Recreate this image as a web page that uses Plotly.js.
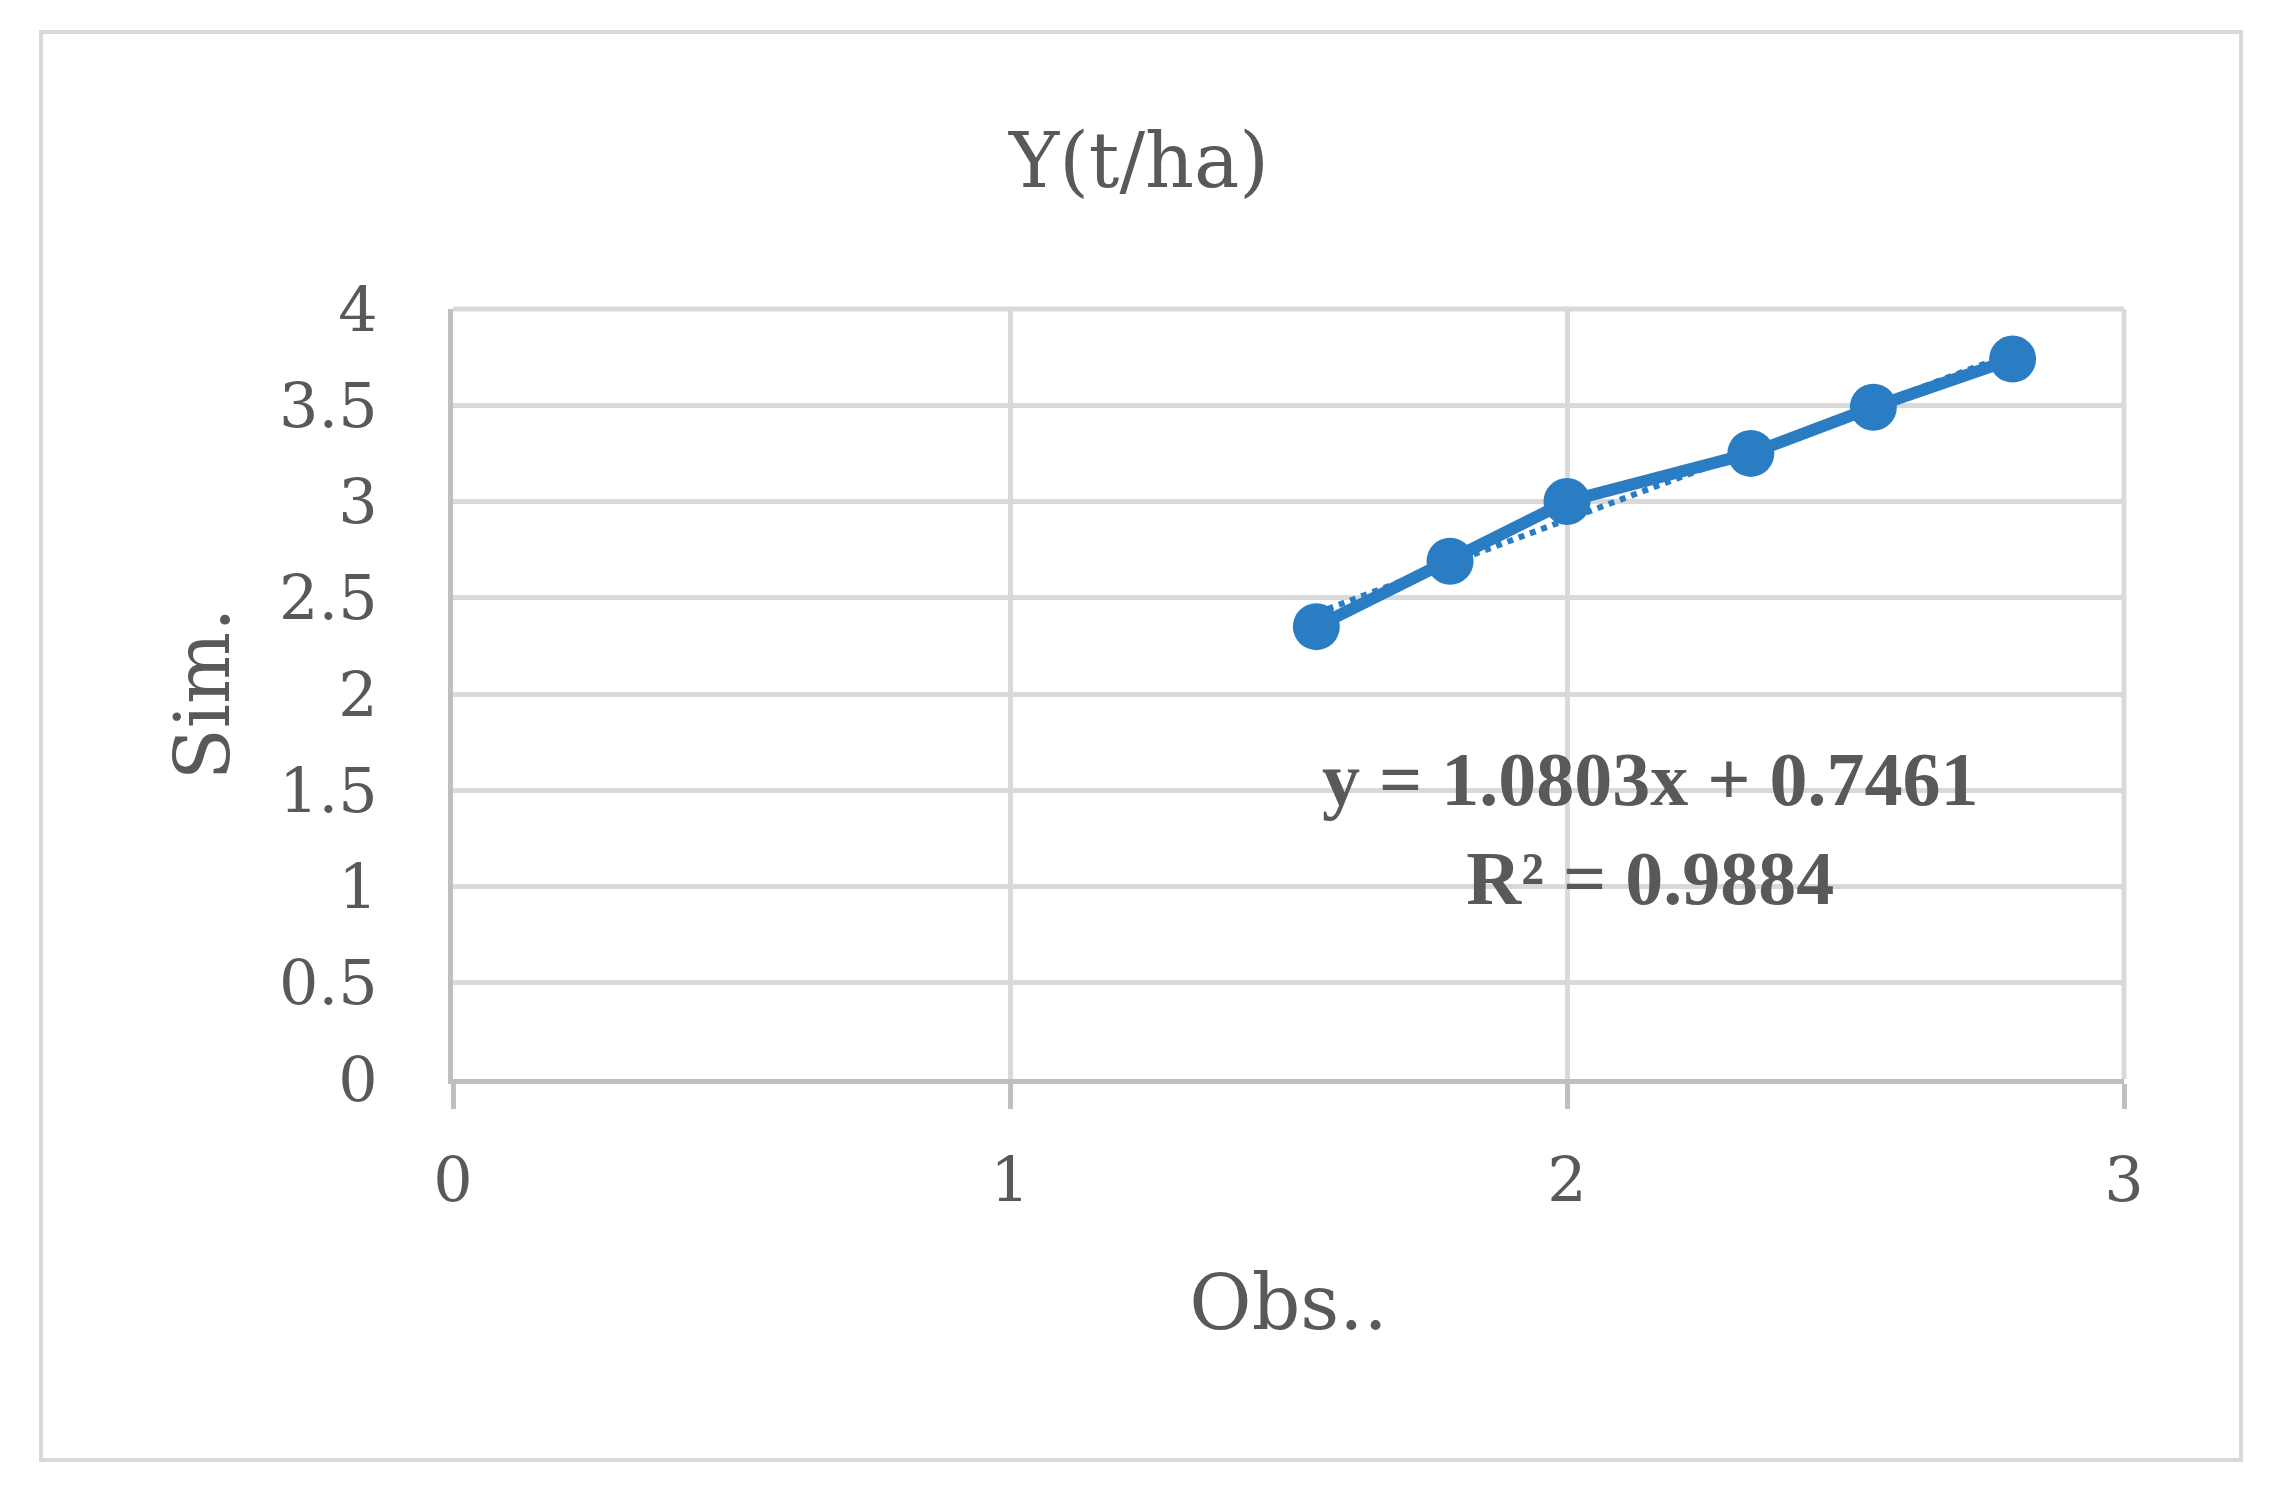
<!DOCTYPE html>
<html>
<head>
<meta charset="utf-8">
<script src="https://cdn.plot.ly/plotly-3.0.1.min.js"></script>
<style>
html,body{margin:0;padding:0;background:#fff;}
#chart{width:2278px;height:1507px;}
</style>
</head>
<body>
<div id="chart"></div>
<script>
// Data
const obs = [1.55, 1.79, 2.00, 2.33, 2.55, 2.80];
const sim = [2.35, 2.69, 3.00, 3.25, 3.49, 3.74];
// Linear trendline endpoints (dotted line in the reference)
const trendX = [1.55, 2.80];
const trendY = [2.42, 3.77];
const chartTitle = 'Y(t/ha)';
const xTitle = 'Obs..';
const yTitle = 'Sim.';
const equationText = 'y = 1.0803x + 0.7461<br>R² = 0.9884';
const xTicks = [0, 1, 2, 3];
const yTicks = [0, 0.5, 1, 1.5, 2, 2.5, 3, 3.5, 4];

const blue = '#2a7dc2';
const textGray = '#595959';
const serif = 'DejaVu Serif, Liberation Serif, serif';

const traces = [
  {
    x: trendX, y: trendY, type: 'scatter', mode: 'lines',
    line: {color: blue, width: 6, dash: 'dot'},
    hoverinfo: 'skip', showlegend: false
  },
  {
    x: obs, y: sim, type: 'scatter', mode: 'lines+markers',
    line: {color: blue, width: 12},
    marker: {color: blue, size: 47},
    showlegend: false
  }
];

const W = 2278, H = 1507;
const L = 453, R = 2124, T = 309, B = 1079;
const pw = R - L, ph = B - T;
function px2paperX(p){ return (p - L) / pw; }
function px2paperY(p){ return (B - p) / ph; }

const layout = {
  width: W, height: H,
  paper_bgcolor: '#ffffff', plot_bgcolor: '#ffffff',
  margin: {l: L, r: W - R, t: T, b: H - B, pad: 0},
  showlegend: false,
  title: {
    text: chartTitle,
    font: {family: serif, size: 76, color: textGray},
    xref: 'container', x: 0.5, xanchor: 'center',
    yref: 'container', y: 1 - 160/H, yanchor: 'middle'
  },
  xaxis: {
    range: [0, 3],
    tickvals: xTicks, ticktext: xTicks.map(String),
    showgrid: true, gridcolor: '#d9d9d9', gridwidth: 5,
    zeroline: false,
    showline: true, linecolor: '#bfbfbf', linewidth: 5,
    ticks: 'outside', ticklen: 25, tickwidth: 5, tickcolor: '#bfbfbf',
    tickfont: {family: serif, size: 62, color: textGray},
    ticklabelstandoff: 18,
    title: {text: xTitle, font: {family: serif, size: 76, color: textGray}, standoff: 62},
    fixedrange: true
  },
  yaxis: {
    range: [0, 4],
    tickvals: yTicks, ticktext: yTicks.map(String),
    showgrid: true, gridcolor: '#d9d9d9', gridwidth: 5,
    zeroline: false,
    showline: true, linecolor: '#bfbfbf', linewidth: 5,
    ticks: '',
    tickfont: {family: serif, size: 62, color: textGray},
    ticklabelstandoff: 58,
    title: {text: yTitle, font: {family: serif, size: 76, color: textGray}, standoff: 26},
    fixedrange: true
  },
  annotations: [
    {
      text: equationText, xref: 'x', yref: 'y', x: 2.15, y: 1.30,
      showarrow: false, xanchor: 'center', yanchor: 'middle', align: 'center',
      font: {family: 'Liberation Serif, serif', size: 76, color: textGray, weight: 'bold'}
    }
  ],
  shapes: [
    {
      type: 'rect', xref: 'paper', yref: 'paper',
      x0: px2paperX(41), x1: px2paperX(2241),
      y0: px2paperY(1460), y1: px2paperY(32),
      line: {color: '#d9d9d9', width: 4}, fillcolor: 'rgba(0,0,0,0)', layer: 'below'
    },
    // top and right frame edges drawn in gridline style
    {
      type: 'line', xref: 'paper', yref: 'paper', x0: 0, x1: 1, y0: 1, y1: 1,
      line: {color: '#d9d9d9', width: 5}, layer: 'below'
    },
    {
      type: 'line', xref: 'paper', yref: 'paper', x0: 1, x1: 1, y0: 0, y1: 1,
      line: {color: '#d9d9d9', width: 5}, layer: 'below'
    }
  ]
};

Plotly.newPlot('chart', traces, layout, {displayModeBar: false, staticPlot: true});
</script>
</body>
</html>
